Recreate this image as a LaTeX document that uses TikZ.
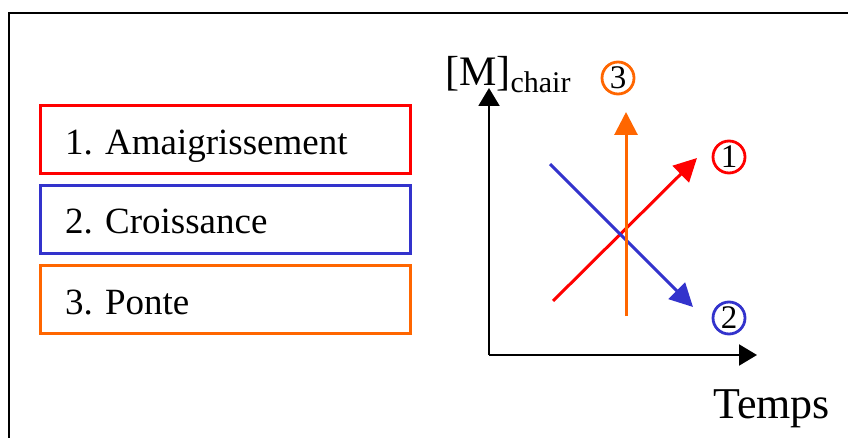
\documentclass[tikz,border=0pt]{standalone}
\usepackage{fontspec}
\setmainfont{Liberation Serif}
\usetikzlibrary{arrows.meta}
\definecolor{rouge}{RGB}{255,0,0}
\definecolor{bleu}{RGB}{51,51,204}
\definecolor{orange}{RGB}{255,102,0}
\frenchspacing
\begin{document}
\begin{tikzpicture}[x=1pt, y=-1pt,
    legende/.style={draw, line width=3pt, outer sep=0, inner xsep=25pt, inner ysep=0, text width=320pt, align=left, text height=29pt, text depth=0pt, minimum height=68pt, font=\fontsize{37}{40}\selectfont},
    rond/.style={draw, circle, line width=2.8pt, inner sep=0, minimum size=32pt, font=\fontsize{33}{34}\selectfont},
    axe/.style={line width=2pt, -{Triangle[length=18pt, width=21pt]}},
    fleche/.style={line width=3pt, -{Triangle[length=23pt, width=23pt]}}]
        \useasboundingbox (0,0) rectangle (848,438);
%%% Start cadre
        \draw[line width=2pt] (9,438) -- (9,13) -- (848,13);
%%% End cadre
%%% Start legende
        \node[legende, draw=rouge] (amai) at (225,140) {1. Amaigrissement};
        \node[legende, draw=bleu] (crois) at (225,219.5) {2. Croissance};
        \node[legende, draw=orange] (ponte) at (225,299.5) {3. Ponte};
%%% End legende
%%% Start axes
        \coordinate (o) at (489,355);
        \coordinate (ytip) at (489,88);
        \coordinate (xtip) at (757,355);
        \draw[axe] (o) -- (ytip);
        \draw[axe] (o) -- (xtip);
        \node[anchor=base west, inner sep=0] (mchair) at (445,86) {\fontsize{42}{44}\selectfont [M]\raisebox{-7pt}{\fontsize{30}{32}\selectfont chair}};
        \node[anchor=base west, inner sep=0] (temps) at (713,418) {\fontsize{44}{46}\selectfont Temps};
%%% End axes
%%% Start fleches
        \coordinate (r0) at (553,301);
        \coordinate (r1) at (697,158);
        \coordinate (b0) at (550,164);
        \coordinate (b1) at (693,307);
        \coordinate (o0) at (626,316);
        \coordinate (o1) at (626,112);
        \draw[fleche, rouge] (r0) -- (r1);
        \draw[fleche, bleu] (b0) -- (b1);
        \draw[fleche, orange] (o0) -- (o1);
        \node[rond, draw=rouge] (un) at (729,157) {1};
        \node[rond, draw=bleu] (deux) at (729,318) {2};
        \node[rond, draw=orange] (trois) at (618,78) {3};
%%% End fleches
\end{tikzpicture}
\end{document}
